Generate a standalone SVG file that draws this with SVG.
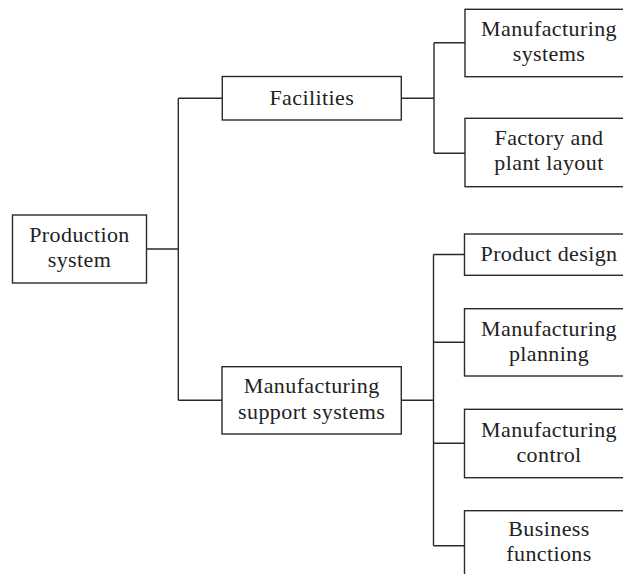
<svg xmlns="http://www.w3.org/2000/svg" width="623" height="574" viewBox="0 0 623 574">
<style>
.box{fill:#fff;stroke:#2a2a2a;stroke-width:1.4}
.con{fill:none;stroke:#2a2a2a;stroke-width:1.4}
text{font-family:"Liberation Serif","Times New Roman",serif;font-size:22px;fill:#222;text-anchor:middle;letter-spacing:0.4px}
</style>
<rect width="623" height="574" fill="#fff"/>
<g id="connectors">
<path class="con" d="M146.5,249 H178.3 M178.3,98.3 V400.3 M178.3,98.3 H222 M178.3,400.3 H222"/>
<path class="con" d="M401.3,98.3 H434 M434,42.7 V153.3 M434,42.7 H465 M434,153.3 H465"/>
<path class="con" d="M401.3,400.3 H433.5 M433.5,254.5 V545.7 M433.5,254.5 H464.5 M433.5,342.3 H464.5 M433.5,443.3 H464.5 M433.5,545.7 H464.5"/>
</g>
<g id="production-system">
<rect class="box" x="12.5" y="215" width="134" height="68"/>
<text x="79.5" y="242">Production</text>
<text x="79.5" y="267">system</text>
</g>
<g id="facilities">
<rect class="box" x="222.3" y="76.5" width="179" height="43.5"/>
<text x="311.8" y="104.5">Facilities</text>
</g>
<g id="manufacturing-support-systems">
<rect class="box" x="222" y="366.7" width="179.3" height="67.3"/>
<text x="311.7" y="393">Manufacturing</text>
<text x="311.7" y="418.5">support systems</text>
</g>
<g id="manufacturing-systems">
<rect class="box" x="465" y="9.3" width="168" height="67.4"/>
<text x="549" y="36">Manufacturing</text>
<text x="549" y="61">systems</text>
</g>
<g id="factory-plant-layout">
<rect class="box" x="465" y="118.3" width="168" height="68.4"/>
<text x="549" y="145">Factory and</text>
<text x="549" y="170">plant layout</text>
</g>
<g id="product-design">
<rect class="box" x="464.5" y="234" width="168" height="41.3"/>
<text x="549" y="260.5">Product design</text>
</g>
<g id="manufacturing-planning">
<rect class="box" x="464.5" y="308.7" width="168" height="67.3"/>
<text x="549" y="335.5">Manufacturing</text>
<text x="549" y="360.5">planning</text>
</g>
<g id="manufacturing-control">
<rect class="box" x="464.5" y="409.3" width="168" height="68.4"/>
<text x="549" y="436.5">Manufacturing</text>
<text x="549" y="461.5">control</text>
</g>
<g id="business-functions">
<rect class="box" x="464.5" y="510.7" width="168" height="75"/>
<text x="549" y="535.5">Business</text>
<text x="549" y="561">functions</text>
</g>
</svg>
